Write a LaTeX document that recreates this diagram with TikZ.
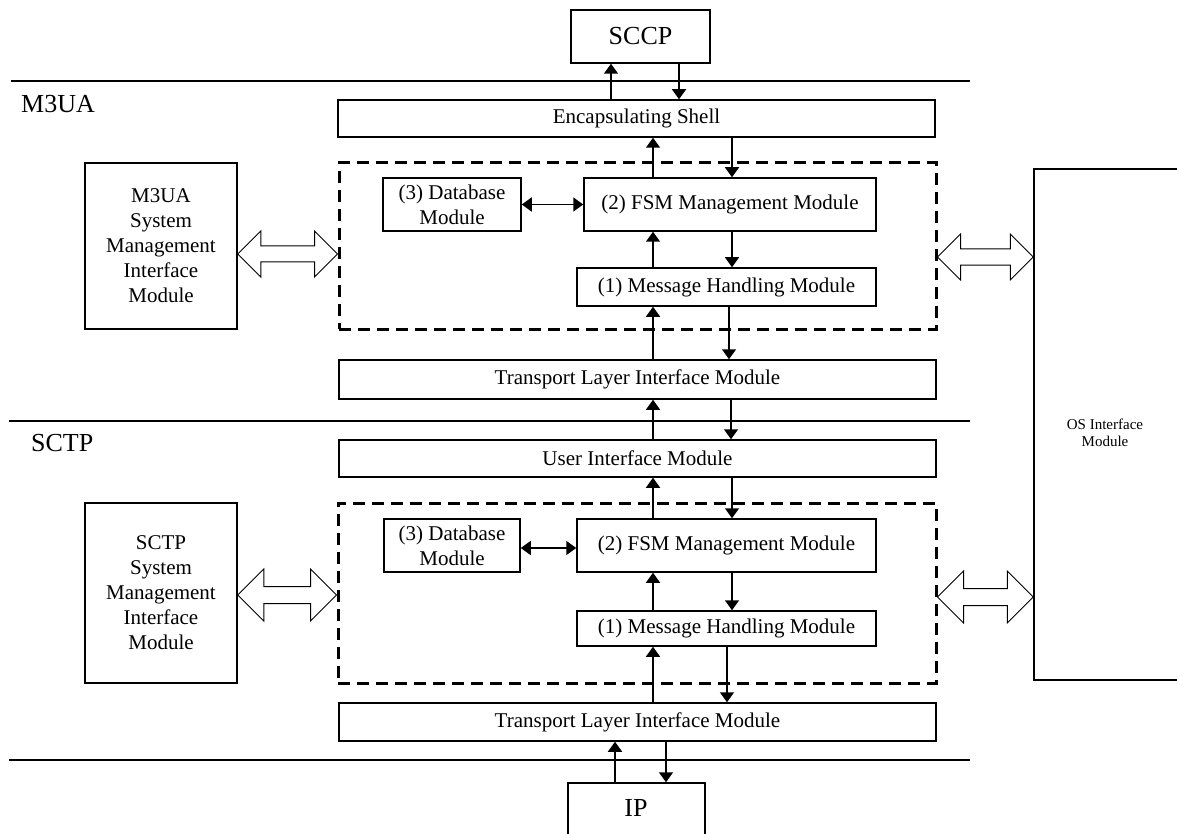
\documentclass[tikz,border=0pt]{standalone}
\usepackage{fontspec}
\setmainfont{Liberation Serif}
\usetikzlibrary{arrows.meta,calc}

% hollow two-headed block arrow: #1 left tip, #2 right tip,
% #3 head length, #4 head half-height, #5 shaft half-height
\newcommand{\hollowdbl}[5]{%
  \draw[hollow] (#1) -- ($(#1)+(#3,-#4)$) -- ($(#1)+(#3,-#5)$)
    -- ($(#2)+(-#3,-#5)$) -- ($(#2)+(-#3,-#4)$) -- (#2)
    -- ($(#2)+(-#3,#4)$) -- ($(#2)+(-#3,#5)$)
    -- ($(#1)+(#3,#5)$) -- ($(#1)+(#3,#4)$) -- cycle;}

\tikzset{
  box/.style={draw, line width=1.5pt, inner sep=0pt, align=center,
    font=\fontsize{21}{25}\selectfont},
  bigbox/.style={box, font=\fontsize{26}{30}\selectfont},
  group/.style={draw, line width=3pt, dash pattern=on 12pt off 7pt, inner sep=0pt},
  layer/.style={line width=1.5pt},
  layername/.style={anchor=west, inner sep=0pt, font=\fontsize{26}{30}\selectfont},
  arr/.style={line width=1.6pt, -{Triangle[width=14pt,length=10pt]}},
  dblarr/.style={line width=1.6pt, {Triangle[width=14pt,length=10pt]}-{Triangle[width=14pt,length=10pt]}},
  hollow/.style={draw, line width=1pt, fill=white, line join=miter},
}

\begin{document}
\begin{tikzpicture}[x=1pt,y=-1pt]
\useasboundingbox (0,0) rectangle (1177,834);
\fill[white] (0,0) rectangle (1177,834);

% layer separators
\draw[layer] (11,81) -- (970,81);
\draw[layer] (9,421) -- (970,421);
\draw[layer] (9,760) -- (970,760);

\node[layername] (m3uaName) at (21,104) {M3UA};
\node[layername] (sctpName) at (31,443) {SCTP};

% outer protocols
\node[bigbox, minimum width=139pt, minimum height=53pt] (sccp) at (640.5,36.5) {SCCP};
\node[bigbox, minimum width=137pt, minimum height=70pt] (ip) at (636.5,818) {};
\node[inner sep=0pt, font=\fontsize{26}{30}\selectfont] (ipText) at (636,808) {IP};

% ---- M3UA ----
\node[box, minimum width=597pt, minimum height=37pt] (enc) at (636.5,118.5) {Encapsulating Shell};
\node[group, minimum width=597pt, minimum height=166pt] (dashA) at (637.5,246) {};
\node[box, minimum width=138pt, minimum height=53pt] (dbA) at (452,204.5) {(3) Database\\Module};
\node[box, minimum width=292pt, minimum height=53pt] (fsmA) at (730,204.5) {(2) FSM Management Module};
\node[box, minimum width=299pt, minimum height=38pt] (mhA) at (726.5,287) {(1) Message Handling Module};
\node[box, minimum width=597pt, minimum height=39pt] (tlA) at (637.5,379.5) {Transport Layer Interface Module};
\node[box, minimum width=152pt, minimum height=166pt] (sysA) at (161,246) {M3UA\\System\\Management\\Interface\\Module};

% ---- SCTP ----
\node[box, minimum width=597pt, minimum height=37pt] (uiB) at (637.5,458.5) {User Interface Module};
\node[group, minimum width=598pt, minimum height=180pt] (dashB) at (637,593) {};
\node[box, minimum width=136pt, minimum height=53pt] (dbB) at (452,545.5) {(3) Database\\Module};
\node[box, minimum width=299pt, minimum height=53pt] (fsmB) at (726.5,545.5) {(2) FSM Management Module};
\node[box, minimum width=299pt, minimum height=35pt] (mhB) at (726.5,628.5) {(1) Message Handling Module};
\node[box, minimum width=597pt, minimum height=38pt] (tlB) at (637.5,722) {Transport Layer Interface Module};
\node[box, minimum width=152pt, minimum height=180pt] (sysB) at (161,593) {SCTP\\System\\Management\\Interface\\Module};

% OS interface (runs past the right edge)
\node[box, minimum width=156pt, minimum height=511pt] (os) at (1112,424.5) {};
\node[inner sep=0pt, align=center, font=\fontsize{15}{17}\selectfont] (osText) at (1105,433) {OS Interface\\Module};

% vertical message flow
\draw[arr] (enc.north -| 611,0) -- (sccp.south -| 611,0);
\draw[arr] (sccp.south -| 679,0) -- (enc.north -| 679,0);
\draw[arr] (fsmA.north -| 653,0) -- (enc.south -| 653,0);
\draw[arr] (enc.south -| 732,0) -- (fsmA.north -| 732,0);
\draw[arr] (mhA.north -| 653,0) -- (fsmA.south -| 653,0);
\draw[arr] (fsmA.south -| 732,0) -- (mhA.north -| 732,0);
\draw[arr] (tlA.north -| 653,0) -- (mhA.south -| 653,0);
\draw[arr] (mhA.south -| 729,0) -- (tlA.north -| 729,0);
\draw[arr] (uiB.north -| 653,0) -- (tlA.south -| 653,0);
\draw[arr] (tlA.south -| 731,0) -- (uiB.north -| 731,0);
\draw[arr] (fsmB.north -| 653,0) -- (uiB.south -| 653,0);
\draw[arr] (uiB.south -| 732,0) -- (fsmB.north -| 732,0);
\draw[arr] (mhB.north -| 653,0) -- (fsmB.south -| 653,0);
\draw[arr] (fsmB.south -| 732,0) -- (mhB.north -| 732,0);
\draw[arr] (tlB.north -| 653,0) -- (mhB.south -| 653,0);
\draw[arr] (mhB.south -| 727,0) -- (tlB.north -| 727,0);
\draw[arr] (ip.north -| 615,0) -- (tlB.south -| 615,0);
\draw[arr] (tlB.south -| 666,0) -- (ip.north -| 666,0);

% database <-> FSM
\draw[dblarr] (dbA.east) -- (fsmA.west |- dbA.east);
\draw[dblarr] (dbB.east |- 0,548) -- (fsmB.west |- 0,548);

% management interfaces
\coordinate (hA1) at (sysA.east |- 0,254);
\coordinate (hA2) at (dashA.west |- 0,254);
\coordinate (hA3) at (dashA.east |- 0,257);
\coordinate (hA4) at (os.west |- 0,257);
\coordinate (hB1) at (sysB.east |- 0,595);
\coordinate (hB2) at (dashB.west |- 0,595);
\coordinate (hB3) at (dashB.east |- 0,597);
\coordinate (hB4) at (os.west |- 0,597);
\hollowdbl{hA1}{hA2}{23}{23}{8}
\hollowdbl{hA3}{hA4}{23}{23}{8}
\hollowdbl{hB1}{hB2}{26}{26}{8.5}
\hollowdbl{hB3}{hB4}{26}{26}{8.5}
\end{tikzpicture}
\end{document}
